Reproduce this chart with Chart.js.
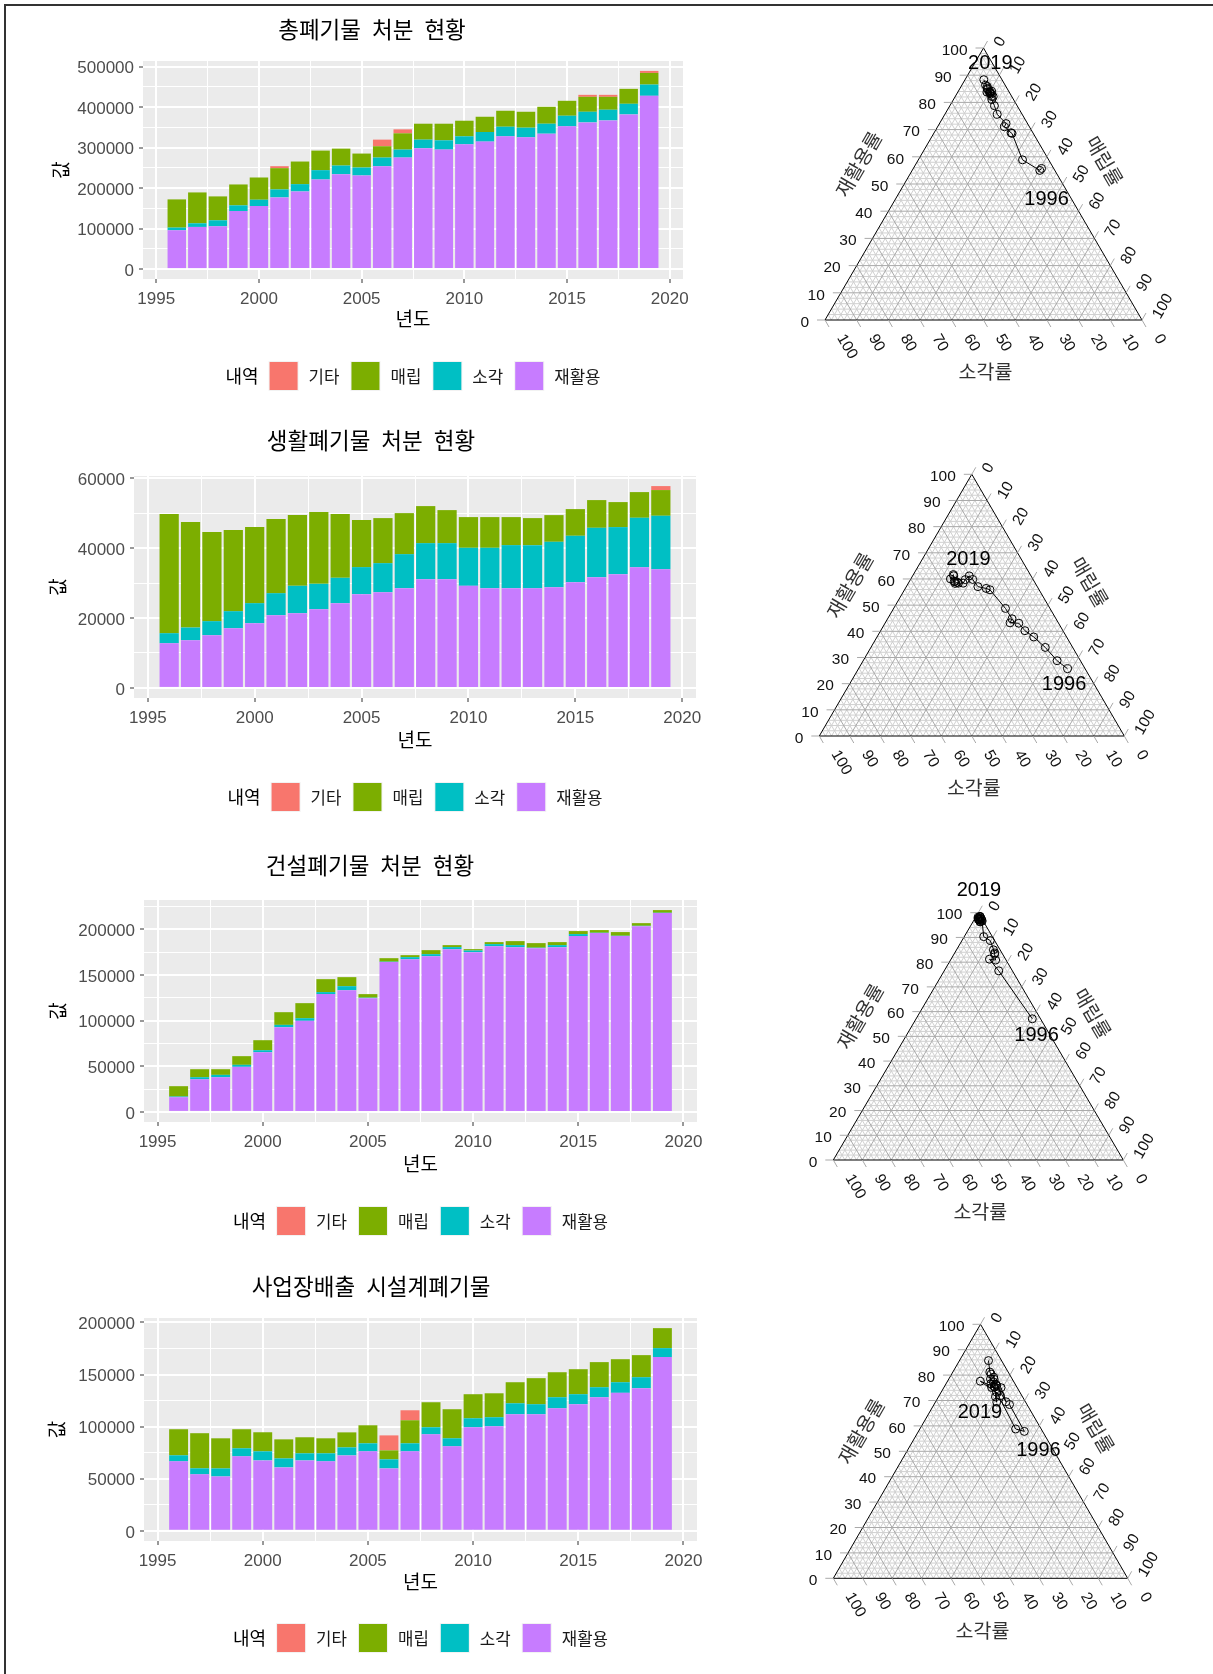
<!DOCTYPE html>
<html>
<head>
<meta charset="utf-8">
<script src="https://cdn.jsdelivr.net/npm/chart.js@4.4.1/dist/chart.umd.min.js"></script>
<style>
  html, body { margin: 0; padding: 0; background: #ffffff; }
  #page { position: relative; width: 1213px; height: 1674px; overflow: hidden; background: #ffffff; }
  #page canvas { position: absolute; }
  #frame { position: absolute; left: 4px; top: 4px; width: 1300px; height: 1800px;
           border-left: 2px solid #333333; border-top: 2px solid #333333; pointer-events: none; }
</style>
</head>
<body>
<div id="page"><div id="frame"></div></div>
<script>
// ---------- data ----------
const years = [1996, 1997, 1998, 1999, 2000, 2001, 2002, 2003, 2004, 2005, 2006, 2007,
               2008, 2009, 2010, 2011, 2012, 2013, 2014, 2015, 2016, 2017, 2018, 2019];
const categories = ['기타', '매립', '소각', '재활용'];
const xBreaks = [1995, 2000, 2005, 2010, 2015, 2020];

// 총폐기물
const totalRecycle  = [95900, 104100, 105700, 143400, 155700, 177000, 191800, 221300, 234400, 231200, 254100, 275400,
                       298400, 295100, 308200, 314800, 327900, 325400, 334400, 352500, 362300, 367200, 382000, 427900];
const totalIncinerate = [6600, 9000, 14800, 14000, 15600, 19700, 18000, 23000, 21300, 19600, 21300, 19700,
                       21300, 22900, 19700, 23700, 23700, 23800, 24600, 26200, 26200, 26300, 26200, 27800];
const totalLandfill = [69600, 76200, 59000, 51600, 54900, 52500, 55800, 48300, 41800, 34500, 27900, 40200,
                       39300, 41000, 38500, 37700, 39400, 39300, 41800, 36900, 36900, 31900, 36900, 28700];
const totalOther    = [0, 0, 0, 0, 0, 4900, 0, 0, 0, 0, 16400, 9800,
                       0, 0, 0, 0, 0, 0, 0, 0, 4900, 4900, 0, 5000];
const totalBreaks = [0, 100000, 200000, 300000, 400000, 500000];

// 생활폐기물
const homeRecycle   = [12800, 13660, 15100, 17100, 18530, 20830, 21400, 22550, 24270, 26850, 27420, 28570,
                       31150, 31150, 29240, 28570, 28570, 28570, 28850, 30290, 31720, 32580, 34590, 34010];
const homeIncinerate = [2870, 3630, 4010, 4870, 5740, 6300, 7840, 7260, 7260, 7740, 8310, 9740,
                       10310, 10310, 10890, 11560, 12320, 12320, 13000, 13280, 14140, 13470, 14140, 15290];
const homeLandfill  = [34110, 30190, 25510, 23220, 21780, 21210, 20250, 20540, 18250, 13470, 12900, 11750,
                       10610, 9460, 8790, 8790, 8030, 7740, 7640, 7640, 7930, 7170, 7350, 7360];
const homeOther     = [0, 0, 0, 0, 0, 0, 0, 0, 0, 0, 0, 0,
                       0, 0, 0, 0, 0, 0, 0, 0, 0, 0, 0, 1140];
const homeBreaks = [0, 20000, 40000, 60000];

// 건설폐기물
const buildRecycle  = [16100, 35800, 38000, 49400, 65400, 92900, 99800, 129100, 133400, 124700, 164200, 167400,
                       170700, 178400, 175100, 181700, 180600, 179500, 180600, 192700, 196000, 192700, 203600, 217900];
const buildIncinerate = [800, 2200, 2600, 2200, 2200, 2500, 2900, 2200, 4400, 500, 500, 2200,
                       2200, 2200, 1800, 2200, 2200, 500, 2200, 2200, 400, 400, 400, 400];
const buildLandfill = [11300, 8800, 6200, 9500, 11000, 13900, 16500, 14200, 9900, 3900, 3800, 2200,
                       4400, 2200, 1500, 2200, 4400, 5000, 3300, 3300, 2900, 4000, 2900, 2900];
const buildOther    = [0, 0, 0, 0, 0, 0, 0, 0, 0, 0, 0, 0,
                       0, 0, 0, 0, 0, 0, 0, 0, 0, 0, 0, 0];
const buildBreaks = [0, 50000, 100000, 150000, 200000];

// 사업장배출 시설계폐기물
const plantRecycle  = [66700, 54200, 52200, 71500, 67600, 60900, 67600, 66700, 72400, 76300, 59900, 76300,
                       92600, 81100, 99400, 100300, 111900, 111900, 117600, 121500, 128200, 132400, 136900, 166700];
const plantIncinerate = [5800, 5800, 7700, 7700, 8700, 8600, 6800, 7700, 7700, 7700, 8700, 7700,
                       6800, 7700, 8600, 8700, 10500, 9600, 10600, 9600, 9600, 10200, 10500, 8600];
const plantLandfill = [25000, 33700, 28900, 18300, 18300, 18300, 15400, 14400, 14400, 17300, 8600, 22100,
                       24000, 27900, 23100, 23000, 20200, 25000, 24000, 24000, 24100, 22100, 21200, 19200];
const plantOther    = [0, 0, 0, 0, 0, 0, 0, 0, 0, 0, 14400, 9600,
                       0, 0, 0, 0, 0, 0, 0, 0, 0, 0, 0, 0];
const plantBreaks = [0, 50000, 100000, 150000, 200000];

// ---------- styling ----------
const FONT = "'Liberation Sans', 'Noto Sans CJK KR', sans-serif";
const FILL = { '기타': '#F8766D', '매립': '#7CAE00', '소각': '#00BFC4', '재활용': '#C77CFF' };
const BAR_W = 0.9;
const TXT_DY = 2;   // hangul sits slightly low against the 'middle' baseline
const page = document.getElementById('page');
const frame = document.getElementById('frame');

function makeCanvas(box) {
  const cv = document.createElement('canvas');
  cv.width = box.w; cv.height = box.h;
  cv.style.cssText = `left:${box.x}px;top:${box.y}px;width:${box.w}px;height:${box.h}px;`;
  page.insertBefore(cv, frame);
  return cv;
}

function minorBreaks(majors, lo, hi) {
  const step = majors[1] - majors[0];
  const out = [];
  for (let v = majors[0] - step / 2; v <= majors[majors.length - 1] + step; v += step) {
    if (v >= lo && v <= hi) out.push(v);
  }
  return out;
}

// draws words with a fixed gap, centred on cx
function drawWords(ctx, text, cx, cy, gap) {
  const words = text.split(' ');
  const ws = words.map(w => ctx.measureText(w).width);
  const total = ws.reduce((a, b) => a + b, 0) + gap * (words.length - 1);
  let x = cx - total / 2;
  ctx.textAlign = 'left';
  words.forEach((w, i) => { ctx.fillText(w, x, cy); x += ws[i] + gap; });
}

function axisCfg(majors, minors, extra, tickExtra) {
  const all = [...majors, ...minors].sort((a, b) => a - b);
  const isMajor = v => majors.includes(v);
  const maj = c => !!(c && c.tick && isMajor(c.tick.value));
  return Object.assign({
    type: 'linear', stacked: true, offset: false,
    afterBuildTicks: s => { s.ticks = all.map(v => ({ value: v })); },
    border: { display: false },
    grid: {
      offset: false, color: '#FFFFFF', drawTicks: true, tickLength: 4, tickWidth: 1,
      lineWidth: c => maj(c) ? 2 : 1,
      tickColor: c => maj(c) ? '#333333' : 'rgba(0,0,0,0)'
    },
    ticks: Object.assign({
      autoSkip: false, maxRotation: 0, minRotation: 0, color: '#4D4D4D',
      font: { family: FONT, size: 17 }, padding: 4,
      callback: v => isMajor(v) ? String(v) : ''
    }, tickExtra)
  }, extra);
}

// ---------- stacked bar panels ----------
function buildBars(spec) {
  const { box, area, title, rec, inc, land, other, yBreaks } = spec;
  const cv = makeCanvas(box);
  const YW = 100, XH = 40;
  const totals = years.map((_, i) => rec[i] + inc[i] + land[i] + other[i]);
  const top = Math.max(...totals);
  const yMin = -0.05 * top, yMax = 1.05 * top;
  const lo = years[0] - BAR_W / 2, hi = years[years.length - 1] + BAR_W / 2;
  const xMin = lo - 0.05 * (hi - lo), xMax = hi + 0.05 * (hi - lo);

  const stack = [['재활용', rec], ['소각', inc], ['매립', land], ['기타', other]];
  const datasets = stack.map(([name, arr]) => ({
    label: name,
    data: years.map((yr, i) => ({ x: yr, y: arr[i] })),
    backgroundColor: FILL[name], borderWidth: 0,
    barPercentage: BAR_W, categoryPercentage: 1
  }));

  const ox = box.x, oy = box.y;
  const decor = {
    id: 'barDecor',
    beforeDraw(chart) {
      const a = chart.chartArea, ctx = chart.ctx;
      ctx.save();
      ctx.fillStyle = '#EBEBEB';
      ctx.fillRect(a.left, a.top, a.right - a.left, a.bottom - a.top);
      ctx.restore();
    },
    afterDraw(chart) {
      const a = chart.chartArea, ctx = chart.ctx;
      const midX = (a.left + a.right) / 2, midY = (a.top + a.bottom) / 2;
      ctx.save();
      ctx.fillStyle = '#000000';
      ctx.textBaseline = 'middle';
      // title
      ctx.font = `22.5px ${FONT}`;
      drawWords(ctx, title, spec.titleX - ox, spec.titleY - oy + TXT_DY, 11);
      // axis titles
      ctx.font = `19px ${FONT}`;
      ctx.textAlign = 'center';
      ctx.fillText('년도', midX, spec.xTitleY - oy + TXT_DY);
      ctx.save();
      ctx.translate(spec.yTitleX - ox, midY);
      ctx.rotate(-Math.PI / 2);
      ctx.fillText('값', 0, 0);
      ctx.restore();
      // legend
      const ly = spec.legendY - oy + TXT_DY;
      const KEY = 28, keyGap = 11, itemGap = 12, titleGap = 11;
      ctx.font = `18px ${FONT}`;
      const tw = ctx.measureText('내역').width;
      ctx.font = `16.8px ${FONT}`;
      const lw = categories.map(c => ctx.measureText(c).width);
      const total = tw + titleGap + lw.reduce((s, w) => s + KEY + keyGap + w, 0) + itemGap * (categories.length - 1);
      let x = midX - total / 2;
      ctx.textAlign = 'left';
      ctx.font = `18px ${FONT}`;
      ctx.fillText('내역', x, ly);
      x += tw + titleGap;
      ctx.font = `16.8px ${FONT}`;
      categories.forEach((c, i) => {
        const ky = spec.legendY - oy - KEY / 2;
        ctx.fillStyle = '#F2F2F2';
        ctx.fillRect(x - 1, ky - 1, KEY + 2, KEY + 2);
        ctx.fillStyle = FILL[c];
        ctx.fillRect(x, ky, KEY, KEY);
        ctx.fillStyle = '#1A1A1A';
        ctx.fillText(c, x + KEY + keyGap, ly);
        x += KEY + keyGap + lw[i] + itemGap;
      });
      ctx.restore();
    }
  };

  new Chart(cv, {
    type: 'bar',
    data: { datasets },
    options: {
      responsive: false, animation: false, devicePixelRatio: 1,
      layout: {
        padding: {
          left: area.l - ox - YW, top: area.t - oy,
          right: box.w - (area.r - ox), bottom: box.h - (area.b - oy) - XH
        }
      },
      plugins: { legend: { display: false }, title: { display: false }, tooltip: { enabled: false } },
      scales: {
        x: axisCfg(xBreaks, minorBreaks(xBreaks, xMin, xMax),
                   { min: xMin, max: xMax, afterFit: s => { s.height = XH; } }, { padding: 6 }),
        y: axisCfg(yBreaks, minorBreaks(yBreaks, yMin, yMax),
                   { min: yMin, max: yMax, afterFit: s => { s.width = YW; } }, { padding: 5, labelOffset: 2 })
      }
    },
    plugins: [decor]
  });
}

// ---------- ternary panels (재활용 / 소각 / 매립 shares) ----------
function buildTernary(spec) {
  const { box, tri, rec, inc, land, firstOff, lastOff } = spec;
  const cv = makeCanvas(box);
  const w = tri.rx - tri.lx, h = tri.by - tri.ty;
  const pts = years.map((_, i) => {
    const t = rec[i] + inc[i] + land[i];
    const r = rec[i] / t, l = land[i] / t;
    return { x: l + r / 2, y: r };
  });

  const decor = {
    id: 'ternaryDecor',
    beforeDatasetsDraw(chart) {
      const ctx = chart.ctx, sx = chart.scales.x, sy = chart.scales.y;
      const P = (r, l) => [sx.getPixelForValue(l + r / 2), sy.getPixelForValue(r)];
      const seg = (a, b) => { ctx.beginPath(); ctx.moveTo(a[0], a[1]); ctx.lineTo(b[0], b[1]); ctx.stroke(); };
      ctx.save();
      const A = P(1, 0), L = P(0, 0), R = P(0, 1);
      ctx.fillStyle = '#FFFFFF';
      ctx.beginPath(); ctx.moveTo(A[0], A[1]); ctx.lineTo(L[0], L[1]); ctx.lineTo(R[0], R[1]); ctx.closePath(); ctx.fill();
      ctx.lineWidth = 1;
      [false, true].forEach(majorPass => {
        ctx.strokeStyle = majorPass ? '#A9A9A9' : '#D0D0D0';
        for (let i = 1; i < 50; i++) {
          if ((i % 5 === 0) !== majorPass) continue;
          const v = i / 50;
          seg(P(v, 0), P(v, 1 - v));       // constant 재활용
          seg(P(0, v), P(1 - v, v));       // constant 매립
          seg(P(0, 1 - v), P(1 - v, 0));   // constant 소각
        }
      });
      ctx.strokeStyle = '#000000';
      ctx.beginPath(); ctx.moveTo(A[0], A[1]); ctx.lineTo(L[0], L[1]); ctx.lineTo(R[0], R[1]); ctx.closePath(); ctx.stroke();

      // axis ticks and labels
      ctx.font = `15.5px ${FONT}`;
      ctx.fillStyle = '#111111';
      ctx.textBaseline = 'middle';
      for (let j = 0; j <= 10; j++) {
        const v = j / 10, lab = String(j * 10);
        ctx.strokeStyle = '#A9A9A9';
        // left: 재활용률
        const pl = P(v, 0);
        seg(pl, [pl[0] - 8, pl[1]]);
        ctx.textAlign = 'right';
        ctx.fillText(lab, pl[0] - 16, pl[1] + 2.5);
        // bottom: 소각률 (100 at left)
        const pb = P(0, 1 - v);
        seg(pb, [pb[0] + 4, pb[1] + 7]);
        ctx.save();
        ctx.translate(pb[0] + 15.5, pb[1] + 15.5);
        ctx.rotate(Math.PI / 3);
        ctx.textAlign = 'left';
        ctx.fillText(lab, 0, 0);
        ctx.restore();
        // right: 매립률 (0 at top)
        const pr = P(1 - v, v);
        seg(pr, [pr[0] + 4, pr[1] - 7]);
        ctx.save();
        ctx.translate(pr[0] + 14.5, pr[1] - 2.5);
        ctx.rotate(-Math.PI / 3);
        ctx.textAlign = 'left';
        ctx.fillText(lab, 0, 0);
        ctx.restore();
      }
      // axis titles
      ctx.font = `19.5px ${FONT}`;
      ctx.fillStyle = '#333333';
      ctx.textAlign = 'center';
      const lm = [(A[0] + L[0]) / 2, (A[1] + L[1]) / 2];
      ctx.save(); ctx.translate(lm[0] - 44, lm[1] - 19); ctx.rotate(-Math.PI / 3); ctx.fillText('재활용률', 0, 0); ctx.restore();
      const rm = [(A[0] + R[0]) / 2, (A[1] + R[1]) / 2];
      ctx.save(); ctx.translate(rm[0] + 40, rm[1] - 22); ctx.rotate(Math.PI / 3); ctx.fillText('매립률', 0, 0); ctx.restore();
      const bm = [(L[0] + R[0]) / 2, L[1]];
      ctx.fillText('소각률', bm[0] + 2, bm[1] + 52 + TXT_DY);
      ctx.restore();
    },
    afterDatasetsDraw(chart) {
      const ctx = chart.ctx, sx = chart.scales.x, sy = chart.scales.y;
      const first = pts[0], last = pts[pts.length - 1];
      ctx.save();
      ctx.font = `20px ${FONT}`;
      ctx.fillStyle = '#000000';
      ctx.textAlign = 'center';
      ctx.textBaseline = 'middle';
      ctx.fillText(String(years[0]), sx.getPixelForValue(first.x) + firstOff[0], sy.getPixelForValue(first.y) + firstOff[1] + 1);
      ctx.fillText(String(years[years.length - 1]), sx.getPixelForValue(last.x) + lastOff[0], sy.getPixelForValue(last.y) + lastOff[1] + 1);
      ctx.restore();
    }
  };

  new Chart(cv, {
    type: 'scatter',
    data: {
      datasets: [{
        data: pts, showLine: true, fill: false, tension: 0,
        borderColor: '#000000', borderWidth: 1,
        pointRadius: 4, pointBorderWidth: 1,
        pointBackgroundColor: 'rgba(0,0,0,0)', pointBorderColor: '#000000'
      }]
    },
    options: {
      responsive: false, animation: false, devicePixelRatio: 1,
      layout: { padding: 0, autoPadding: false },
      plugins: { legend: { display: false }, title: { display: false }, tooltip: { enabled: false } },
      scales: {
        x: { type: 'linear', display: false, min: (box.x - tri.lx) / w, max: (box.x + box.w - tri.lx) / w },
        y: { type: 'linear', display: false, min: (tri.by - (box.y + box.h)) / h, max: (tri.by - box.y) / h }
      }
    },
    plugins: [decor]
  });
}

// ---------- page ----------
buildBars({
  box: { x: 0, y: 0, w: 745, h: 415 }, area: { l: 143, r: 683, t: 61, b: 279 },
  title: '총폐기물 처분 현황', titleX: 372, titleY: 30, xTitleY: 319, yTitleX: 63, legendY: 376,
  rec: totalRecycle, inc: totalIncinerate, land: totalLandfill, other: totalOther, yBreaks: totalBreaks
});
buildBars({
  box: { x: 0, y: 415, w: 745, h: 415 }, area: { l: 134, r: 696, t: 476, b: 698 },
  title: '생활폐기물 처분 현황', titleX: 371, titleY: 441, xTitleY: 740, yTitleX: 60, legendY: 797,
  rec: homeRecycle, inc: homeIncinerate, land: homeLandfill, other: homeOther, yBreaks: homeBreaks
});
buildBars({
  box: { x: 0, y: 830, w: 745, h: 420 }, area: { l: 144, r: 697, t: 900, b: 1122 },
  title: '건설폐기물 처분 현황', titleX: 370, titleY: 866, xTitleY: 1164, yTitleX: 60, legendY: 1221,
  rec: buildRecycle, inc: buildIncinerate, land: buildLandfill, other: buildOther, yBreaks: buildBreaks
});
buildBars({
  box: { x: 0, y: 1250, w: 745, h: 424 }, area: { l: 144, r: 697, t: 1318, b: 1541 },
  title: '사업장배출 시설계폐기물', titleX: 371, titleY: 1287, xTitleY: 1582, yTitleX: 59, legendY: 1638,
  rec: plantRecycle, inc: plantIncinerate, land: plantLandfill, other: plantOther, yBreaks: plantBreaks
});

buildTernary({
  box: { x: 745, y: 0, w: 468, h: 415 }, tri: { lx: 825, rx: 1142, by: 320, ty: 48 },
  rec: totalRecycle, inc: totalIncinerate, land: totalLandfill, firstOff: [5, 30], lastOff: [6.5, -17.5]
});
buildTernary({
  box: { x: 745, y: 415, w: 468, h: 415 }, tri: { lx: 819.3, rx: 1124.3, by: 736, ty: 474.3 },
  rec: homeRecycle, inc: homeIncinerate, land: homeLandfill, firstOff: [-3.4, 14.3], lastOff: [18, -20]
});
buildTernary({
  box: { x: 745, y: 830, w: 468, h: 420 }, tri: { lx: 833.3, rx: 1123.3, by: 1160, ty: 912.7 },
  rec: buildRecycle, inc: buildIncinerate, land: buildLandfill, firstOff: [4.3, 16], lastOff: [-1, -27.4]
});
buildTernary({
  box: { x: 745, y: 1250, w: 468, h: 424 }, tri: { lx: 833.3, rx: 1127.7, by: 1578.3, ty: 1324.3 },
  rec: plantRecycle, inc: plantIncinerate, land: plantLandfill, firstOff: [29, 44.5], lastOff: [-8.6, 51]
});
</script>
</body>
</html>
